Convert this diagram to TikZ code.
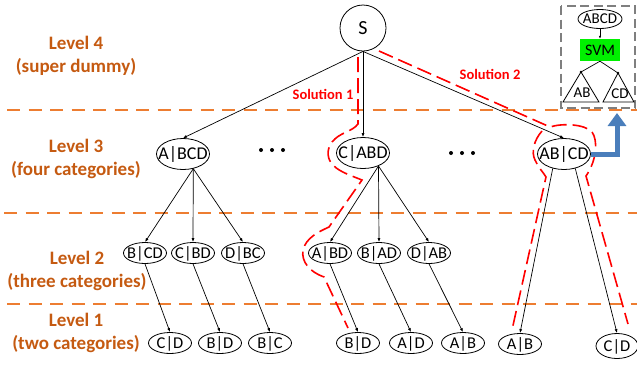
\documentclass[tikz,border=0pt]{standalone}
\usepackage{fontspec}
\setmainfont{Carlito}
\usetikzlibrary{arrows.meta,shapes.geometric}
\definecolor{lvlorange}{RGB}{197,90,17}
\definecolor{lineorange}{RGB}{237,125,49}
\definecolor{svmgreen}{RGB}{0,240,0}
\definecolor{arrowblue}{RGB}{74,126,187}
\definecolor{boxgray}{RGB}{127,127,127}
% zero-width, fixed-height label so that the ellipse size comes from the minimum sizes only
\newcommand{\ctext}[1]{\makebox[0pt]{\smash{#1}}\rule[-0.1em]{0pt}{0.84em}}
\begin{document}
\begin{tikzpicture}[x=1pt,y=-1pt,
  lvl/.style={font=\bfseries\fontsize{19}{22.5}\selectfont, text=lvlorange, align=center},
  sep/.style={draw=lineorange, line width=1.4pt, dash pattern=on 13pt off 8.5pt},
  big/.style={ellipse, draw, line width=0.8pt, minimum width=53pt, minimum height=31pt, inner sep=0pt, font=\fontsize{18}{20}\selectfont},
  small/.style={ellipse, draw, line width=0.8pt, minimum width=43pt, minimum height=21pt, inner sep=0pt, font=\fontsize{16.5}{18}\selectfont},
  edge/.style={draw, line width=0.7pt, -{Latex[length=4pt,width=3pt]}},
  sol/.style={draw=red, line width=1.6pt, dash pattern=on 15pt off 6pt},
  sollabel/.style={font=\bfseries\fontsize{14.5}{17}\selectfont, text=red},
  dot/.style={circle, fill, inner sep=0pt, minimum size=4pt},
  insettext/.style={font=\fontsize{15}{17}\selectfont},
]
\useasboundingbox (0,0) rectangle (637,368);

% level separators
\draw[sep] (7,110) -- (637,110);
\draw[sep] (4,213) -- (637,213);
\draw[sep] (7,304) -- (637,304);

% level captions
\node[lvl] (l4) at (76,56) {Level 4\\(super dummy)};
\node[lvl] (l3) at (76,159) {Level 3\\(four categories)};
\node[lvl] (l2) at (77,271) {Level 2\\(three categories)};
\node[lvl] (l1) at (76,333) {Level 1\\(two categories)};

% root
\node[circle, draw, line width=0.8pt, minimum size=46pt, inner sep=0pt,
      font=\fontsize{20}{22}\selectfont] (S) at (363,28) {S};

% level 3
\node[big] (abcd) at (183,154) {\ctext{A|BCD}};
\node[big] (cabd) at (363,153) {\ctext{C|ABD}};
\node[big] (abcd2) at (564,154) {\ctext{AB|CD}};

\node[dot] (d1) at (261,150) {};
\node[dot] (d2) at (272,150) {};
\node[dot] (d3) at (283,150) {};
\node[dot] (d4) at (451,153) {};
\node[dot] (d5) at (462,153) {};
\node[dot] (d6) at (473,153) {};

% level 2
\node[small] (bcd) at (145,253) {\ctext{B|CD}};
\node[small] (cbd) at (193,253) {\ctext{C|BD}};
\node[small] (dbc) at (243,253) {\ctext{D|BC}};
\node[small] (abd) at (330,253) {\ctext{A|BD}};
\node[small] (bad) at (379,253) {\ctext{B|AD}};
\node[small] (dab) at (429,253) {\ctext{D|AB}};

% level 1
\node[small] (cd1) at (170,343) {\ctext{C|D}};
\node[small] (bd1) at (220,343) {\ctext{B|D}};
\node[small] (bc1) at (270,343) {\ctext{B|C}};
\node[small] (bd2) at (358,343) {\ctext{B|D}};
\node[small] (ad2) at (411,343) {\ctext{A|D}};
\node[small] (ab2) at (463,343) {\ctext{A|B}};
\node[small] (ab3) at (520,344) {\ctext{A|B}};
\node[small, minimum height=25pt, minimum width=42pt] (cd3) at (617,346) {\ctext{C|D}};

% tree edges
\draw[edge] (S.south) -- (abcd.north);
\draw[edge] (S.south) -- (cabd.north);
\draw[edge] (S.south) -- (abcd2.north);

\draw[edge] (abcd.305) -- (bcd.north);
\draw[edge] (abcd.305) -- (cbd.north);
\draw[edge] (abcd.305) -- (dbc.north);
\draw[edge] (cabd.320) -- (abd.north);
\draw[edge] (cabd.320) -- (bad.north);
\draw[edge] (cabd.320) -- (dab.north);

\draw[edge] (bcd.south) -- (cd1.north);
\draw[edge] (cbd.south) -- (bd1.north);
\draw[edge] (dbc.south) -- (bc1.north);
\draw[edge] (abd.south) -- (bd2.north);
\draw[edge] (bad.south) -- (ad2.north);
\draw[edge] (dab.south) -- (ab2.north);

\draw[edge] (abcd2.232) -- (ab3.north);
\draw[edge] (abcd2.308) -- (cd3.north);

% solution 1
\draw[sol] (358,57) -- (358,124)
  .. controls (352,132) and (340,132) .. (332,142)
  .. controls (326,150) and (327,160) .. (334,166)
  .. controls (340,172) and (352,176) .. (362,180)
  -- (329,227)
  .. controls (318,232) and (306,238) .. (303,250)
  .. controls (301,262) and (310,272) .. (324,277)
  -- (348,328);
\node[sollabel] (s1) at (323,94) {Solution 1};

% solution 2
\draw[sol] (379,51) -- (550,127)
  .. controls (562,123) and (585,124) .. (592,132)
  .. controls (598,140) and (597,160) .. (586,176)
  -- (628,324);
\draw[sol] (542,131)
  .. controls (534,140) and (531,152) .. (535,160)
  .. controls (538,167) and (543,172) .. (546,177)
  -- (512,330);
\node[sollabel] (s2) at (490,74) {Solution 2};

% inset: SVM split of ABCD
\draw[boxgray, line width=1.6pt, dash pattern=on 9pt off 4.5pt] (561,6) rectangle (635,108);
\node[ellipse, draw, line width=0.8pt, minimum width=44pt, minimum height=19pt, inner sep=0pt,
      insettext] (abcdin) at (600,19) {\ctext{ABCD}};
\node[rectangle, fill=svmgreen, minimum width=40pt, minimum height=22pt, inner sep=0pt,
      font=\fontsize{16}{18}\selectfont] (svm) at (600,50) {SVM};
\draw[line width=0.7pt, -{Latex[length=3pt,width=2.5pt]}] (abcdin.south) -- (svm.north);
\coordinate (apexl) at (581,72);
\coordinate (apexr) at (618,73);
\draw[line width=0.7pt] (svm.south) -- (apexl);
\draw[line width=0.7pt] (svm.south) -- (apexr);
\fill (apexl) circle (1.4pt);
\fill (apexr) circle (1.4pt);
\draw[line width=0.8pt] (apexl) -- (563,102) -- (599,102) -- cycle;
\draw[line width=0.8pt] (apexr) -- (603,102) -- (634,102) -- cycle;
\node[insettext] (tab) at (582,93) {AB};
\node[insettext] (tcd) at (620,94) {CD};

% link from AB|CD to the inset
\coordinate (bluetip) at (617,113);
\draw[arrowblue, line width=5pt, -{Triangle[width=18pt,length=13pt]}] (abcd2.east) -| (bluetip);
\end{tikzpicture}
\end{document}
